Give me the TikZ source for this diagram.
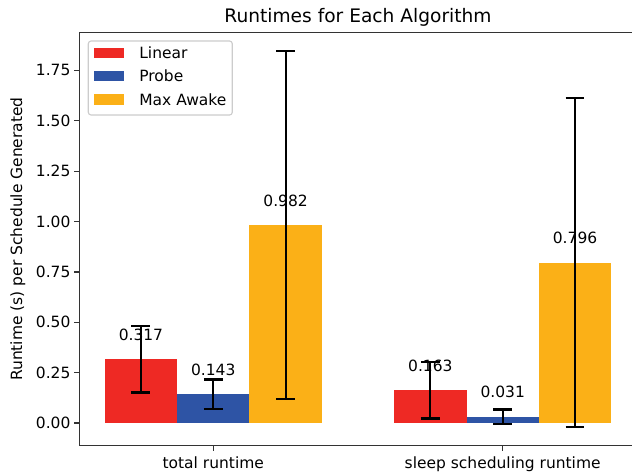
\documentclass[tikz,border=0pt]{standalone}
\usepackage{fontspec}
\setmainfont{DejaVu Sans}

\definecolor{linred}{RGB}{238,41,36}
\definecolor{probeblue}{RGB}{46,84,165}
\definecolor{awakeorange}{RGB}{251,176,23}

\begin{document}
\begin{tikzpicture}[x=208.37pt, y=145.08pt,
        errbar/.style={line width=1.6pt, black},
        axisline/.style={line width=0.9pt, black!80},
        lbl/.style={font=\fontsize{11.15}{13}\selectfont, inner sep=0pt},
        titlelbl/.style={font=\fontsize{13.4}{16}\selectfont, inner sep=0pt}]

        \useasboundingbox (-0.7370, -0.2531) rectangle (1.4468, 2.0993);

        % bars, one group per runtime kind
        \fill[linred] (-0.375, 0) rectangle (-0.125, 0.317);
        \fill[probeblue] (-0.125, 0) rectangle (0.125, 0.143);
        \fill[awakeorange] (0.125, 0) rectangle (0.375, 0.982);

        \fill[linred] (0.625, 0) rectangle (0.875, 0.163);
        \fill[probeblue] (0.875, 0) rectangle (1.125, 0.031);
        \fill[awakeorange] (1.125, 0) rectangle (1.375, 0.796);

        % error bars with caps
        \foreach \x/\v/\e in {-0.25/0.317/0.166, 0/0.143/0.073, 0.25/0.982/0.864,
                              0.75/0.163/0.141, 1/0.031/0.036, 1.25/0.796/0.816} {
            \draw[errbar] (\x, \v-\e) -- (\x, \v+\e);
            \draw[errbar] ([xshift=-6.8pt]\x, \v-\e) -- ([xshift=6.8pt]\x, \v-\e);
            \draw[errbar] ([xshift=-6.8pt]\x, \v+\e) -- ([xshift=6.8pt]\x, \v+\e);
        }

        % value above each bar
        \foreach \x/\v [count=\i] in {-0.25/0.317, 0/0.143, 0.25/0.982,
                                      0.75/0.163, 1/0.031, 1.25/0.796}
            \node[lbl] (val\i) at (\x, \v+0.122) {\v};

        % axes frame (right side runs off the page)
        \draw[axisline] (1.4468, 1.939) -- (-0.4625, 1.939)
            -- (-0.4625, -0.113) -- (1.4468, -0.113);

        % y ticks
        \foreach \t [count=\i] in {0.00, 0.25, 0.50, 0.75, 1.00, 1.25, 1.50, 1.75} {
            \draw[axisline] (-0.4625, \t) -- ++(-3.9pt, 0);
            \node[lbl, anchor=east] (ytick\i) at ([xshift=-6.3pt]-0.4625, \t) {\t};
        }

        % x ticks
        \draw[axisline] (0, -0.113) -- ++(0, -3.9pt);
        \draw[axisline] (1, -0.113) -- ++(0, -3.9pt);
        \node[lbl, anchor=base] (xtotal) at (0, -0.228) {total runtime};
        \node[lbl, anchor=base] (xsleep) at (1, -0.228) {sleep scheduling runtime};

        \node[lbl, rotate=90] (ylabel) at (-0.6749, 0.913) {Runtime (s) per Schedule Generated};
        \node[titlelbl, anchor=base] (title) at (0.5, 1.9866) {Runtimes for Each Algorithm};

        % legend
        \draw[black!20, fill=white, fill opacity=0.8, rounded corners=2pt, line width=0.8pt]
            (-0.4319, 1.8958) rectangle (0.0657, 1.5285);
        \foreach \c/\name/\y [count=\i] in {linred/Linear/1.8372, probeblue/Probe/1.7211,
                                            awakeorange/Max Awake/1.6055} {
            \fill[\c] (-0.4135, \y-0.0258) rectangle (-0.3099, \y+0.0258);
            \node[lbl, anchor=west] (key\i) at (-0.2564, \y) {\name};
        }
    \end{tikzpicture}
\end{document}
